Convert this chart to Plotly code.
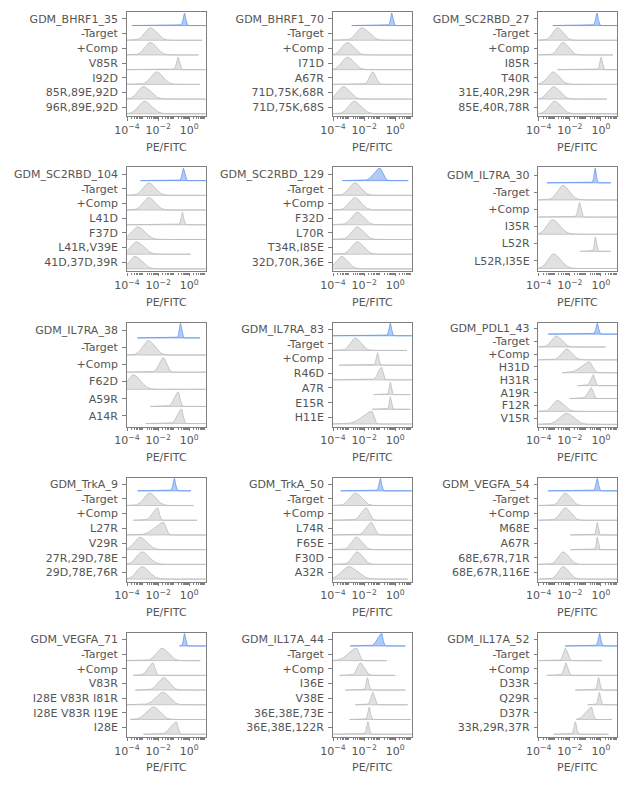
import numpy as np
import plotly.graph_objects as go

# design names, one panel each (read row by row)
PANELS = ["GDM_BHRF1_35", "GDM_BHRF1_70", "GDM_SC2RBD_27",
          "GDM_SC2RBD_104", "GDM_SC2RBD_129", "GDM_IL7RA_30",
          "GDM_IL7RA_38", "GDM_IL7RA_83", "GDM_PDL1_43",
          "GDM_TrkA_9", "GDM_TrkA_50", "GDM_VEGFA_54",
          "GDM_VEGFA_71", "GDM_IL17A_44", "GDM_IL17A_52"]

# row labels under the design row
VARIANTS = [
    ["-Target", "+Comp", "V85R", "I92D", "85R,89E,92D", "96R,89E,92D"],
    ["-Target", "+Comp", "I71D", "A67R", "71D,75K,68R", "71D,75K,68S"],
    ["-Target", "+Comp", "I85R", "T40R", "31E,40R,29R", "85E,40R,78R"],
    ["-Target", "+Comp", "L41D", "F37D", "L41R,V39E", "41D,37D,39R"],
    ["-Target", "+Comp", "F32D", "L70R", "T34R,I85E", "32D,70R,36E"],
    ["-Target", "+Comp", "I35R", "L52R", "L52R,I35E"],
    ["-Target", "+Comp", "F62D", "A59R", "A14R"],
    ["-Target", "+Comp", "R46D", "A7R", "E15R", "H11E"],
    ["-Target", "+Comp", "H31D", "H31R", "A19R", "F12R", "V15R"],
    ["-Target", "+Comp", "L27R", "V29R", "27R,29D,78E", "29D,78E,76R"],
    ["-Target", "+Comp", "L74R", "F65E", "F30D", "A32R"],
    ["-Target", "+Comp", "M68E", "A67R", "68E,67R,71R", "68E,67R,116E"],
    ["-Target", "+Comp", "V83R", "I28E V83R I81R", "I28E V83R I19E", "I28E"],
    ["-Target", "+Comp", "I36E", "V38E", "36E,38E,73E", "36E,38E,122R"],
    ["-Target", "+Comp", "D33R", "Q29R", "D37R", "33R,29R,37R"],
]

# mode of each distribution, log10(PE/FITC); first entry = design row
PEAK = [
    [-0.31, -2.50, -2.50, -0.72, -2.10, -2.95, -2.87],
    [-0.23, -2.15, -3.08, -3.08, -1.45, -3.34, -2.65],
    [-0.26, -2.79, -2.44, 0.00, -3.09, -3.05, -2.98],
    [-0.38, -2.60, -2.60, -0.44, -3.30, -3.40, -3.50],
    [-1.00, -2.60, -2.60, -2.45, -2.45, -2.45, -3.46],
    [-0.37, -2.44, -1.38, -3.11, -0.36, -3.05],
    [-0.57, -2.63, -1.66, -3.60, -0.70, -0.50],
    [-0.32, -2.57, -1.14, -0.89, -0.32, -0.32, -1.49],
    [-0.24, -2.87, -2.23, -0.75, -0.50, -0.63, -2.80, -2.20],
    [-0.96, -2.55, -2.03, -1.65, -3.19, -3.04, -3.04],
    [-0.96, -2.57, -1.87, -1.55, -2.50, -2.45, -3.00],
    [-0.24, -2.30, -2.30, -0.24, -0.24, -2.43, -2.43],
    [-0.31, -1.75, -2.33, -1.64, -1.68, -2.29, -0.83],
    [-0.87, -2.49, -2.24, -1.79, -1.45, -1.68, -1.76],
    [-0.09, -2.30, -2.26, -0.15, -0.11, -0.62, -1.65],
]

# spread below / above the mode (decades)
SPREAD_LO = [
    [0.08, 0.35, 0.35, 0.10, 0.35, 0.35, 0.38],
    [0.07, 0.35, 0.35, 0.35, 0.20, 0.35, 0.35],
    [0.08, 0.30, 0.30, 0.07, 0.35, 0.35, 0.35],
    [0.08, 0.35, 0.35, 0.08, 0.40, 0.35, 0.35],
    [0.35, 0.35, 0.35, 0.35, 0.35, 0.35, 0.35],
    [0.07, 0.35, 0.10, 0.35, 0.06, 0.35],
    [0.07, 0.35, 0.25, 0.35, 0.25, 0.25],
    [0.08, 0.30, 0.08, 0.20, 0.06, 0.06, 0.60],
    [0.08, 0.30, 0.30, 0.50, 0.15, 0.20, 0.30, 0.45],
    [0.08, 0.35, 0.30, 0.55, 0.35, 0.35, 0.35],
    [0.08, 0.35, 0.30, 0.30, 0.30, 0.30, 0.45],
    [0.08, 0.30, 0.30, 0.06, 0.06, 0.30, 0.30],
    [0.06, 0.35, 0.30, 0.35, 0.45, 0.45, 0.35],
    [0.25, 0.50, 0.20, 0.08, 0.12, 0.08, 0.08],
    [0.08, 0.12, 0.12, 0.08, 0.07, 0.35, 0.08],
]
SPREAD_HI = [
    [0.08, 0.40, 0.40, 0.10, 0.40, 0.45, 0.45],
    [0.07, 0.45, 0.40, 0.40, 0.20, 0.40, 0.45],
    [0.08, 0.35, 0.35, 0.07, 0.40, 0.40, 0.40],
    [0.08, 0.40, 0.40, 0.08, 0.45, 0.45, 0.45],
    [0.20, 0.40, 0.40, 0.40, 0.40, 0.40, 0.40],
    [0.07, 0.40, 0.10, 0.45, 0.06, 0.45],
    [0.07, 0.40, 0.20, 0.45, 0.10, 0.10],
    [0.08, 0.35, 0.08, 0.10, 0.06, 0.06, 0.12],
    [0.08, 0.35, 0.35, 0.20, 0.10, 0.12, 0.40, 0.45],
    [0.08, 0.40, 0.10, 0.15, 0.45, 0.45, 0.45],
    [0.08, 0.40, 0.20, 0.20, 0.35, 0.35, 0.55],
    [0.08, 0.35, 0.35, 0.06, 0.06, 0.35, 0.35],
    [0.06, 0.40, 0.12, 0.35, 0.40, 0.40, 0.10],
    [0.08, 0.15, 0.25, 0.08, 0.12, 0.08, 0.08],
    [0.08, 0.15, 0.12, 0.08, 0.07, 0.10, 0.08],
]

# extent of the measured values (log10), i.e. where each baseline runs
LINE_LO = [
    [-3.68, -4.2, -4.2, -4.2, -4.2, -4.2, -4.2],
    [-2.80, -4.2, -4.2, -4.2, -4.2, -4.2, -4.2],
    [-3.09, -4.2, -4.2, -2.79, -4.2, -4.2, -4.2],
    [-3.14, -4.2, -4.2, -4.2, -4.2, -4.2, -4.2],
    [-3.40, -4.2, -4.2, -4.2, -4.2, -4.2, -4.2],
    [-3.47, -4.2, -4.2, -4.2, -1.33, -4.2],
    [-3.33, -4.2, -4.2, -4.2, -2.50, -2.80],
    [-4.2, -4.2, -3.60, -4.2, -1.38, -1.49, -4.2],
    [-3.39, -4.2, -4.2, -2.50, -1.50, -2.00, -4.2, -4.2],
    [-3.32, -4.2, -3.60, -4.2, -4.2, -4.2, -4.2],
    [-3.50, -4.2, -4.2, -4.2, -4.2, -4.2, -4.2],
    [-3.40, -4.2, -4.2, -1.97, -1.97, -4.2, -4.2],
    [-0.62, -4.2, -3.61, -3.47, -4.2, -3.79, -2.95],
    [-2.89, -4.2, -3.57, -3.21, -2.57, -2.93, -4.2],
    [-2.30, -4.2, -3.47, -1.65, -0.86, -1.59, -3.05],
]
LINE_HI = [
    [1.2, 0.82, 0.60, 1.2, 0.70, 1.2, 1.2],
    [1.2, 1.2, 1.2, 1.2, 1.2, 1.2, 1.2],
    [1.2, 1.2, 0.77, 1.2, 1.2, 0.38, 1.2],
    [1.2, 1.2, 1.2, 1.2, 1.2, 0.10, 1.2],
    [0.84, 1.2, 1.2, 1.2, 1.2, 1.2, 1.2],
    [0.64, 1.2, 1.2, 1.2, 0.64, 1.2],
    [0.70, 1.2, 1.2, 1.2, 1.2, 1.2],
    [1.2, 0.76, 1.2, 1.2, 0.97, 0.97, 1.2],
    [1.2, 0.30, 1.2, 1.2, 1.2, 1.2, 1.2, 1.2],
    [0.11, 0.28, 0.50, 1.2, 1.2, 1.2, 1.2],
    [1.2, 1.2, 1.2, 1.2, 1.2, 1.2, 0.80],
    [1.2, 1.2, 1.2, 1.2, 1.2, 1.2, 1.2],
    [1.2, 0.71, 1.2, 1.2, 1.2, 1.2, 1.2],
    [0.65, -0.53, 0.0, 0.65, 0.80, 1.0, 1.2],
    [1.2, 0.06, 1.2, 1.2, 1.2, 0.71, 0.49],
]

RIDGE_H = 0.85
FONT = "DejaVu Sans"
TXT = "#555555"
AX = "#7f7f7f"
GREY_FILL = "rgba(195,195,195,0.5)"
GREY_LINE = "rgba(185,185,185,0.75)"
BLUE_FILL = "rgba(100,149,237,0.5)"
BLUE_LINE = "rgba(100,149,237,0.75)"

# the page body keeps its 8px default margin, so the figure is laid out
# in window pixels minus 8
OFF = 8
W, H = 630 - 2 * OFF, 788 - 2 * OFF
col_left = [126.7 - OFF, 332.7 - OFF, 538.4 - OFF]
panel_w = 79.0
row_top = [12.3 - OFF + 155.1 * r for r in range(5)]
panel_h = 104.0

fig = go.Figure()
layout = {}

minor_vals = [m * 10.0 ** k for k in range(-5, 2) for m in range(2, 10)] + [1e-3, 1e-1, 10.0]

for p, name in enumerate(PANELS):
    r, c = divmod(p, 3)
    labels = [name] + VARIANTS[p]
    n = len(labels)
    xa = "x" if p == 0 else f"x{p + 1}"
    ya = "y" if p == 0 else f"y{p + 1}"
    for i in range(n):
        base = n - 1 - i
        lx = np.linspace(LINE_LO[p][i], LINE_HI[p][i], 700)
        s = np.where(lx < PEAK[p][i], SPREAD_LO[p][i], SPREAD_HI[p][i])
        dens = RIDGE_H * np.exp(-0.5 * ((lx - PEAK[p][i]) / s) ** 2)
        xs = np.concatenate([10 ** lx, 10 ** lx[::-1]])
        ys = np.concatenate([base + dens, np.full(len(lx), base)])
        blue = i == 0
        fig.add_trace(go.Scatter(
            x=xs, y=ys, xaxis=xa, yaxis=ya, mode="lines", fill="toself",
            fillcolor=BLUE_FILL if blue else GREY_FILL,
            line=dict(color=BLUE_LINE if blue else GREY_LINE, width=1),
            hoverinfo="skip", showlegend=False))

    x0 = col_left[c] / W
    top = row_top[r]
    key_x = "xaxis" if p == 0 else f"xaxis{p + 1}"
    key_y = "yaxis" if p == 0 else f"yaxis{p + 1}"
    layout[key_x] = dict(
        domain=[x0, x0 + panel_w / W], anchor=ya, type="log",
        range=[-4.02, 1.06], showgrid=False, zeroline=False,
        showline=True, mirror=True, linecolor=AX, linewidth=1.2,
        tickmode="array", tickvals=[1e-4, 1e-2, 1],
        ticktext=["10<sup>\u22124</sup>", "10<sup>\u22122</sup>", "10<sup>0</sup>"],
        ticks="outside", ticklen=3.5, tickwidth=1, tickcolor=AX,
        minor=dict(tickmode="array", tickvals=minor_vals, ticks="outside",
                   ticklen=2, tickwidth=0.8, tickcolor=AX, showgrid=False),
        tickfont=dict(family=FONT, size=11, color=TXT), automargin=False)
    layout[key_y] = dict(
        domain=[1 - (top + panel_h) / H, 1 - top / H], anchor=xa,
        range=[-0.17, n - 1 + 0.9], showgrid=False, zeroline=False,
        showline=True, mirror=True, linecolor=AX, linewidth=1.2,
        tickmode="array", tickvals=[n - 1 - i + 0.45 for i in range(n)],
        ticktext=labels, ticks="outside", ticklen=3.5, tickwidth=1,
        tickcolor=AX, tickfont=dict(family=FONT, size=11, color=TXT),
        ticklabelstandoff=2, automargin=False)

annotations = []
for p in range(len(PANELS)):
    r, c = divmod(p, 3)
    annotations.append(dict(
        text="PE/FITC", xref="paper", yref="paper", showarrow=False,
        x=(col_left[c] + panel_w / 2) / W,
        y=1 - (row_top[r] + panel_h + 31) / H,
        xanchor="center", yanchor="middle",
        font=dict(family=FONT, size=11, color=TXT)))

fig.update_layout(
    width=W, height=H, margin=dict(l=0, r=0, t=0, b=0),
    template="none", paper_bgcolor="white", plot_bgcolor="white",
    showlegend=False, annotations=annotations, **layout)

fig.write_html("out.html")
